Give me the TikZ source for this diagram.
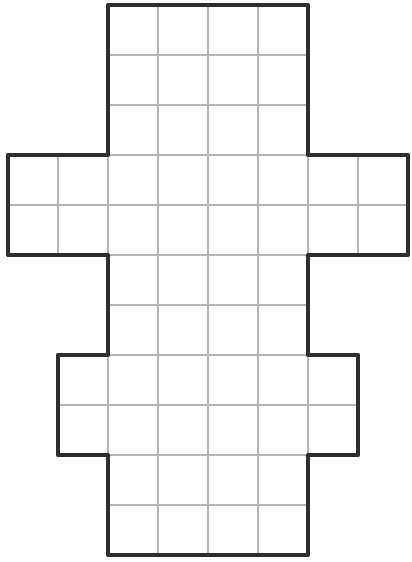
\documentclass[tikz,border=0pt]{standalone}
\usepackage{xcolor}
\usepackage{tikz}
\definecolor{gridgrey}{HTML}{B4B4B4}
\definecolor{penline}{HTML}{2E2E2E}
\tikzset{
  netgrid/.style={draw=gridgrey, line width=0.9pt},
  netedge/.style={draw=penline, line width=2.6pt, line join=round, line cap=round}
}
\newcommand{\netoutline}{(2,0) -- (6,0) -- (6,2) -- (7,2) -- (7,4) -- (6,4) -- (6,6) -- (8,6) -- (8,8) -- (6,8) -- (6,11) -- (2,11) -- (2,8) -- (0,8) -- (0,6) -- (2,6) -- (2,4) -- (1,4) -- (1,2) -- (2,2) -- cycle}

\begin{document}
\begin{tikzpicture}
\useasboundingbox (-0.16,-0.14) rectangle (8.06,11.1);

% Squares of the net
\begin{scope}
  \clip \netoutline;
  \draw[netgrid, step=1cm] (0,0) grid (8,11);
\end{scope}

% Outline
\draw[netedge] \netoutline;
\end{tikzpicture}
\end{document}
